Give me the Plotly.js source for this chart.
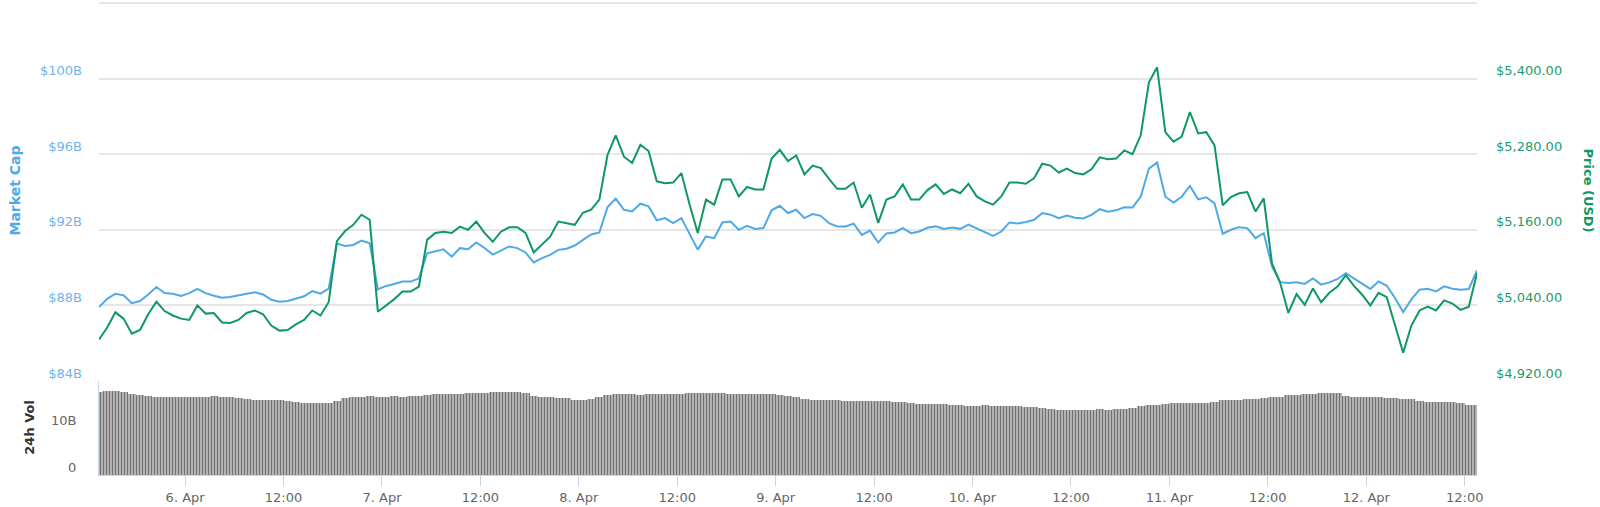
<!DOCTYPE html>
<html>
<head>
<meta charset="utf-8">
<script src="https://cdn.plot.ly/plotly-3.0.1.min.js"></script>
<style>
  html, body { margin: 0; padding: 0; background: #fff; }
  #chart_area { width: 1600px; height: 507px; }
</style>
</head>
<body>
<div id="chart_area"></div>
<script>
// hourly samples, first one 5 Apr 2019 13:30
var start_utc = Date.UTC(2019, 3, 5, 13, 30);

// market cap, billions USD
var market_cap = [
  87.91, 88.35, 88.62, 88.53, 88.12, 88.23, 88.58, 88.97, 88.65, 88.62,
  88.50, 88.65, 88.87, 88.65, 88.51, 88.41, 88.44, 88.55, 88.62, 88.69,
  88.58, 88.30, 88.19, 88.23, 88.35, 88.48, 88.76, 88.62, 88.89, 91.27,
  91.15, 91.20, 91.43, 91.29, 88.85, 89.03, 89.13, 89.26, 89.26, 89.43,
  90.76, 90.85, 90.97, 90.58, 91.03, 90.97, 91.33, 91.04, 90.69, 90.90,
  91.12, 91.03, 90.80, 90.27, 90.50, 90.67, 90.94, 91.00, 91.17, 91.47,
  91.75, 91.86, 93.20, 93.65, 93.06, 92.97, 93.38, 93.24, 92.50, 92.62,
  92.35, 92.62, 91.79, 90.95, 91.65, 91.56, 92.39, 92.44, 92.00, 92.21,
  92.04, 92.09, 93.03, 93.27, 92.89, 93.06, 92.62, 92.83, 92.74, 92.35,
  92.18, 92.18, 92.32, 91.73, 91.96, 91.33, 91.81, 91.86, 92.09, 91.82,
  91.91, 92.11, 92.18, 92.04, 92.12, 92.05, 92.28, 92.09, 91.86, 91.68,
  91.91, 92.39, 92.34, 92.41, 92.53, 92.89, 92.80, 92.62, 92.76, 92.64,
  92.60, 92.79, 93.09, 92.96, 93.03, 93.19, 93.18, 93.75, 95.24, 95.56,
  93.75, 93.44, 93.75, 94.32, 93.61, 93.72, 93.40, 91.79, 92.00, 92.14,
  92.09, 91.56, 91.82, 90.07, 89.23, 89.19, 89.23, 89.14, 89.43, 89.10,
  89.22, 89.40, 89.70, 89.43, 89.18, 88.87, 89.27, 89.04, 88.39, 87.65,
  88.32, 88.83, 88.88, 88.74, 89.01, 88.88, 88.83, 88.87, 89.85
];

// price, USD
var price_usd = [
  4986, 5005, 5029, 5019, 4995, 5001, 5026, 5046, 5031, 5024,
  5019, 5017, 5040, 5027, 5028, 5013, 5012, 5017, 5028, 5032,
  5026, 5008, 5000, 5001, 5010, 5017, 5032, 5024, 5045, 5142,
  5158, 5168, 5184, 5176, 5030, 5040, 5050, 5062, 5062, 5070,
  5144, 5155, 5157, 5155, 5165, 5160, 5173, 5155, 5141, 5157,
  5164, 5164, 5155, 5124, 5136, 5149, 5173, 5171, 5168, 5187,
  5192, 5208, 5279, 5310, 5276, 5266, 5295, 5285, 5237, 5234,
  5235, 5250, 5200, 5155, 5208, 5200, 5240, 5240, 5213, 5228,
  5224, 5224, 5273, 5287, 5269, 5278, 5248, 5262, 5258, 5241,
  5225, 5225, 5235, 5195, 5216, 5171, 5208, 5213, 5232, 5208,
  5208, 5223, 5232, 5217, 5224, 5218, 5233, 5213, 5205, 5200,
  5213, 5235, 5235, 5233, 5242, 5265, 5262, 5251, 5257, 5250,
  5248, 5256, 5275, 5272, 5273, 5286, 5280, 5310, 5394, 5418,
  5315, 5300, 5308, 5347, 5313, 5315, 5294, 5199, 5212, 5218,
  5220, 5189, 5210, 5107, 5076, 5028, 5058, 5041, 5067, 5045,
  5060, 5070, 5088, 5071, 5057, 5040, 5060, 5053, 5010, 4965,
  5008, 5032, 5038, 5032, 5048, 5043, 5033, 5038, 5091
];

// 24h volume, billions USD
var volume_24h = [
  18.1, 18.2, 18.2, 18.1, 17.6, 17.4, 17.1, 17.0, 17.0, 17.0,
  16.9, 17.0, 17.0, 17.0, 17.1, 17.0, 16.9, 16.8, 16.4, 16.3,
  16.2, 16.2, 16.2, 16.1, 15.8, 15.7, 15.6, 15.6, 15.7, 16.1,
  16.8, 17.0, 17.0, 17.1, 17.0, 17.0, 17.1, 17.0, 17.1, 17.2,
  17.4, 17.5, 17.6, 17.6, 17.6, 17.7, 17.7, 17.9, 18.0, 18.1,
  18.1, 18.0, 17.9, 17.2, 17.0, 16.9, 16.8, 16.7, 16.3, 16.2,
  16.6, 17.0, 17.4, 17.5, 17.5, 17.5, 17.4, 17.5, 17.5, 17.5,
  17.6, 17.6, 17.7, 17.7, 17.9, 17.9, 17.8, 17.5, 17.5, 17.5,
  17.5, 17.5, 17.6, 17.4, 17.2, 17.0, 16.4, 16.3, 16.2, 16.2,
  16.2, 16.1, 16.1, 16.1, 16.0, 16.1, 16.0, 15.8, 15.8, 15.7,
  15.5, 15.4, 15.4, 15.4, 15.3, 15.1, 15.0, 15.0, 15.1, 15.0,
  14.9, 14.9, 15.0, 14.8, 14.7, 14.5, 14.3, 14.2, 14.1, 14.1,
  14.0, 14.2, 14.3, 14.2, 14.3, 14.3, 14.5, 14.9, 15.1, 15.3,
  15.5, 15.6, 15.6, 15.7, 15.6, 15.7, 15.8, 16.2, 16.3, 16.3,
  16.4, 16.5, 16.8, 16.9, 17.0, 17.3, 17.4, 17.5, 17.6, 17.8,
  17.9, 17.7, 17.2, 17.0, 17.0, 16.9, 16.9, 16.8, 16.7, 16.6,
  16.4, 16.0, 15.9, 15.9, 15.8, 15.8, 15.7, 15.3, 15.2
];

var date_ticks = [
  '2019-04-06 00:00', '2019-04-06 12:00', '2019-04-07 00:00', '2019-04-07 12:00',
  '2019-04-08 00:00', '2019-04-08 12:00', '2019-04-09 00:00', '2019-04-09 12:00',
  '2019-04-10 00:00', '2019-04-10 12:00', '2019-04-11 00:00', '2019-04-11 12:00',
  '2019-04-12 00:00', '2019-04-12 12:00'
];
var date_labels = [
  '6. Apr', '12:00', '7. Apr', '12:00', '8. Apr', '12:00', '9. Apr', '12:00',
  '10. Apr', '12:00', '11. Apr', '12:00', '12. Apr', '12:00'
];

var cap_ticks = [84, 88, 92, 96, 100, 104];
var cap_labels = ['$84B', '$88B', '$92B', '$96B', '$100B', ''];
var price_ticks = [4920, 5040, 5160, 5280, 5400, 5520];
var price_labels = ['$4,920.00', '$5,040.00', '$5,160.00', '$5,280.00', '$5,400.00', ''];
var vol_ticks = [0, 10];
var vol_labels = ['0', '10B'];

function stamp(i) {
  return new Date(start_utc + i * 3600e3).toISOString().slice(0, 16).replace('T', ' ');
}
var times = market_cap.map(function (v, i) { return stamp(i); });

var FONT = 'DejaVu Sans, Verdana, sans-serif';

var trace_cap = {
  type: 'scatter', mode: 'lines',
  x: times, y: market_cap, yaxis: 'y',
  line: { color: '#4ea9e6', width: 2 },
  hoverinfo: 'skip'
};
var trace_price = {
  type: 'scatter', mode: 'lines',
  x: times, y: price_usd, yaxis: 'y2',
  line: { color: '#0f9862', width: 2 },
  hoverinfo: 'skip'
};
var trace_vol = {
  type: 'bar',
  x: times, y: volume_24h, yaxis: 'y3',
  width: 3600e3,
  marker: {
    color: '#777777',
    line: { width: 0 },
    pattern: { shape: '|', fgcolor: '#6f6f6f', bgcolor: '#d4d4d4', size: 3, solidity: 0.55 }
  },
  hoverinfo: 'skip'
};

// plot area runs from y=1 to y=475; main panel ends at 381
var layout = {
  width: 1600, height: 507,
  margin: { l: 99, r: 123, t: 1, b: 32 },
  paper_bgcolor: '#ffffff', plot_bgcolor: '#ffffff',
  showlegend: false,
  bargap: 0,
  font: { family: FONT, size: 13, color: '#666666' },
  xaxis: {
    type: 'date', anchor: 'y3',
    range: [stamp(0), stamp(market_cap.length - 1)],
    tickmode: 'array', tickvals: date_ticks, ticktext: date_labels,
    ticks: 'outside', ticklen: 10, tickwidth: 1, tickcolor: '#ccd6eb',
    showline: true, linecolor: '#ccd6eb', linewidth: 1,
    showgrid: false, zeroline: false,
    tickfont: { family: FONT, size: 13, color: '#666666' }
  },
  yaxis: {
    domain: [0.1983, 1], range: [84, 104.106],
    tickmode: 'array', tickvals: cap_ticks, ticktext: cap_labels,
    showgrid: true, gridcolor: '#e6e6e6', gridwidth: 2,
    zeroline: false, showline: false, ticks: '',
    ticklabelshift: -8, ticklabelstandoff: 16,
    tickfont: { family: FONT, size: 13, color: '#6fb5ec' }
  },
  yaxis2: {
    overlaying: 'y', side: 'right', range: [4920, 5523.2],
    tickmode: 'array', tickvals: price_ticks, ticktext: price_labels,
    showgrid: false, zeroline: false, showline: false, ticks: '',
    ticklabelshift: -8, ticklabelstandoff: 18,
    tickfont: { family: FONT, size: 13, color: '#1f9b68' }
  },
  yaxis3: {
    domain: [0, 0.1983], range: [0, 20.4],
    tickmode: 'array', tickvals: vol_ticks, ticktext: vol_labels,
    showgrid: true, gridcolor: '#e6e6e6', gridwidth: 1,
    zeroline: false, showline: true, linecolor: '#ccd6eb', ticks: '',
    ticklabelshift: -8, ticklabelstandoff: 19,
    tickfont: { family: FONT, size: 13, color: '#666666' }
  },
  annotations: [
    { text: 'Market Cap', xref: 'paper', yref: 'paper', x: -0.061, y: 0.6,
      textangle: -90, showarrow: false, xanchor: 'center', yanchor: 'middle',
      font: { family: FONT, size: 14, color: '#4ea9e6', weight: 'bold' } },
    { text: 'Price (USD)', xref: 'paper', yref: 'paper', x: 1.0806, y: 0.6,
      textangle: 90, showarrow: false, xanchor: 'center', yanchor: 'middle',
      font: { family: FONT, size: 13, color: '#0f9862', weight: 'bold' } },
    { text: '24h Vol', xref: 'paper', yref: 'paper', x: -0.05, y: 0.1,
      textangle: -90, showarrow: false, xanchor: 'center', yanchor: 'middle',
      font: { family: FONT, size: 13, color: '#333333', weight: 'bold' } }
  ]
};

var config = { displayModeBar: false, staticPlot: true };

Plotly.newPlot('chart_area', [trace_vol, trace_cap, trace_price], layout, config);
</script>
</body>
</html>
